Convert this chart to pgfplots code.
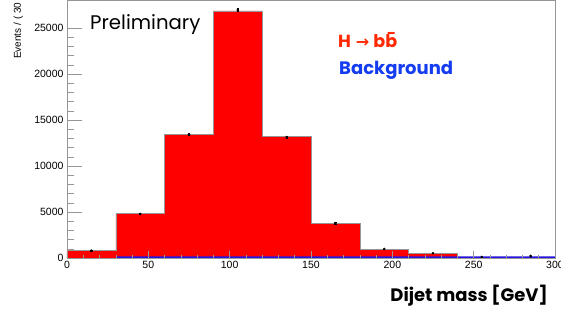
\documentclass[border=0pt]{standalone}
\usepackage{fontspec}
\setmainfont{Liberation Sans}
\newfontfamily\pop{Poppins}
\newfontfamily\dejavu{DejaVu Sans}
\usepackage{pgfplots}
\pgfplotsset{compat=1.18}
\definecolor{sig}{RGB}{255,0,0}
\definecolor{bkg}{RGB}{40,20,225}
\definecolor{axgray}{RGB}{150,150,150}
\definecolor{legred}{RGB}{255,40,0}
\definecolor{legblue}{RGB}{20,60,240}
\newcommand{\bbar}{\ooalign{b\cr\hidewidth\raisebox{0.3ex}{¯}\hidewidth\cr}}
\begin{document}
\begin{tikzpicture}
\pgfplotsset{
  common/.style={
    at={(0pt,0pt)}, anchor=south west,
    scale only axis, width=488pt, height=258pt,
    xmin=0, xmax=300, ymin=0, ymax=28050,
    axis line style={axgray, line width=0.6pt},
    tick style={axgray, line width=0.6pt},
    tick align=inside,
    /pgf/number format/assume math mode=true,
    /pgf/number format/set thousands separator={},
    ticklabel style={font=\fontsize{10.5}{12}\selectfont},
    scaled ticks=false,
  }
}
\begin{axis}[common, axis on top, xtick=\empty, ytick={0,5000,...,25000},
  minor y tick num=4, major tick length=15pt, minor tick length=7pt, ytick pos=left]
\addplot[const plot mark left, fill=sig, draw=axgray, line width=0.5pt] coordinates {
(0,835)(30,4860)(60,13400)(90,26880)(120,13230)(150,3770)(180,945)(210,510)(240,510)} \closedcycle;
\addplot[ybar interval, fill=bkg, draw=none] coordinates {
(30,180)(60,180)(90,180)(120,180)(150,180)(180,180)(210,180)(240,180)(270,180)(300,0)};
\addplot[only marks, mark=*, mark size=1.1pt, black,
  error bars/.cd, y dir=both, y explicit, error bar style={black, line width=0.5pt}] coordinates {
(15,800) +- (0,28)
(45,4780) +- (0,69)
(75,13440) +- (0,116)
(105,26960) +- (0,164)
(135,13150) +- (0,115)
(165,3790) +- (0,62)
(195,980) +- (0,31)
(225,510) +- (0,23)
(255,110) +- (0,10)
(285,220) +- (0,15)
};
\end{axis}
\begin{axis}[common, ytick=\empty, xtick={0,50,...,300}, minor x tick num=4,
  major tick length=7pt, minor tick length=3.5pt, xtick pos=left]
\end{axis}
\node[anchor=base west, inner sep=0, font=\pop\fontsize{19.7}{21}\selectfont] at (23pt,228pt) {Preliminary};
\node[anchor=base west, inner sep=0, font=\pop\bfseries\fontsize{17.5}{18}\selectfont, text=legred] at (271pt,210pt) {H\hspace{5pt}{\dejavu\fontsize{16}{16}\selectfont →}\hspace{4pt}b\bbar};
\node[anchor=base west, inner sep=0, font=\pop\bfseries\fontsize{18}{19}\selectfont, text=legblue] at (272pt,183pt) {Background};
\node[anchor=base east, inner sep=0, font=\pop\bfseries\fontsize{18}{19}\selectfont] at (481pt,-43pt) {Dijet mass [GeV]};
\node[rotate=90, anchor=base west, inner sep=0, font=\fontsize{10}{12}\selectfont] at (-46pt,199pt) {Events / ( 30 GeV )};
\pgfresetboundingbox
\path[use as bounding box] (-67pt,-55pt) rectangle (494pt,258pt);
\end{tikzpicture}
\end{document}
